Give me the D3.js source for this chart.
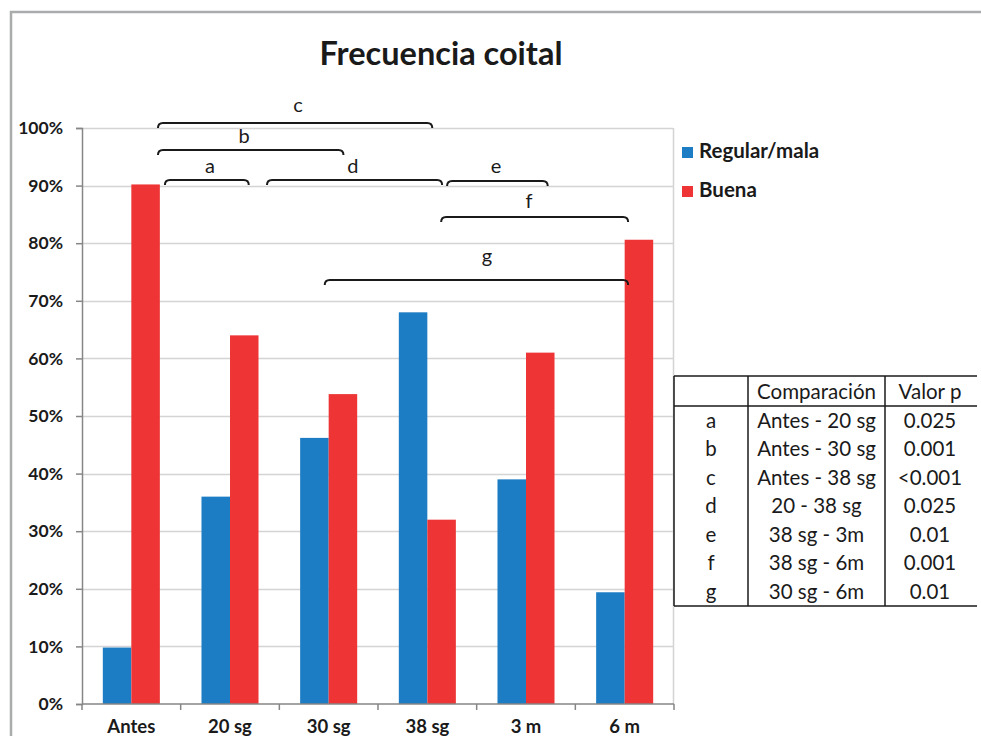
<!DOCTYPE html>
<html>
<head>
<meta charset="utf-8">
<script src="https://cdn.jsdelivr.net/npm/d3@7"></script>
<style>
  html, body { margin: 0; padding: 0; background: #fff; }
  svg { display: block; }
  text { font-family: Lato, "Open Sans", sans-serif; fill: #1a1a1a; }
</style>
</head>
<body>
<svg id="chart" width="981" height="736"></svg>
<script>
// Periods at which coital frequency was assessed
const categories = ["Antes", "20 sg", "30 sg", "38 sg", "3 m", "6 m"];
const seriesNames = ["Regular/mala", "Buena"];
// Percentage of women in each group
const regularMala = [0.098, 0.36, 0.462, 0.68, 0.39, 0.194];
const buena = [0.902, 0.64, 0.538, 0.32, 0.61, 0.806];
const yTicks = [0, 0.1, 0.2, 0.3, 0.4, 0.5, 0.6, 0.7, 0.8, 0.9, 1.0];

// Significance brackets: span in category units, bracket height and label position
const bracketLabels = ["a", "b", "c", "d", "e", "f", "g"];
const bracketFrom = [0.84, 0.77, 0.77, 1.875, 3.70, 3.64, 2.46];
const bracketTo = [1.69, 2.65, 3.55, 3.65, 4.72, 5.535, 5.535];
const bracketLevel = [0.9097, 0.9618, 1.0087, 0.9097, 0.908, 0.8455, 0.736];
const bracketLabelAt = [1.297, 1.642, 2.19, 2.746, 4.195, 4.53, 4.105];
const bracketLabelLevel = [0.922, 0.974, 1.027, 0.922, 0.922, 0.861, 0.765];

// Comparison table
const tableHeader = ["", "Comparación", "Valor p"];
const tableComparisons = ["Antes - 20 sg", "Antes - 30 sg", "Antes - 38 sg", "20 - 38 sg", "38 sg - 3m", "38 sg - 6m", "30 sg - 6m"];
const tablePValues = ["0.025", "0.001", "<0.001", "0.025", "0.01", "0.001", "0.01"];

const colors = { "Regular/mala": "#1d7dc4", "Buena": "#ee3434" };

const svg = d3.select("#chart");

// Outer chart frame
svg.append("rect")
  .attr("x", 11).attr("y", 12).attr("width", 990).attr("height", 740)
  .attr("fill", "#fff").attr("stroke", "#a9abad").attr("stroke-width", 2.5);

// Title
svg.append("text")
  .attr("x", 441).attr("y", 65)
  .attr("text-anchor", "middle")
  .attr("font-size", 32.5).attr("font-weight", 700)
  .text("Frecuencia coital");

const plot = { left: 82, right: 674, top: 128, bottom: 704 };

const x = d3.scaleBand().domain(categories).range([plot.left, plot.right]).padding(0);
const x1 = d3.scaleBand().domain(seriesNames).range([0, x.bandwidth()]).paddingInner(0).paddingOuter(0.73);
const y = d3.scaleLinear().domain([0, 1]).range([plot.bottom, plot.top]);
const ux = u => plot.left + u * x.step();

// Gridlines
svg.append("g")
  .selectAll("line")
  .data(yTicks.slice(1))
  .join("line")
  .attr("x1", plot.left).attr("x2", plot.right - 1)
  .attr("y1", d => Math.round(y(d)) + 0.5).attr("y2", d => Math.round(y(d)) + 0.5)
  .attr("stroke", "#d4d4d4").attr("stroke-width", 1.5);

// Plot-area right edge
svg.append("line")
  .attr("x1", plot.right - 0.5).attr("x2", plot.right - 0.5)
  .attr("y1", plot.top).attr("y2", plot.bottom)
  .attr("stroke", "#d4d4d4").attr("stroke-width", 1.5);

// Bars
const rows = categories.map((c, i) => ({ cat: c, values: [regularMala[i], buena[i]] }));
svg.append("g")
  .selectAll("g")
  .data(rows)
  .join("g")
  .attr("transform", d => `translate(${x(d.cat)},0)`)
  .selectAll("rect")
  .data(d => d.values.map((v, j) => ({ name: seriesNames[j], v })))
  .join("rect")
  .attr("x", d => x1(d.name))
  .attr("width", x1.bandwidth())
  .attr("y", d => y(d.v))
  .attr("height", d => y(0) - y(d.v))
  .attr("fill", d => colors[d.name]);

// Y axis
const yAxis = svg.append("g")
  .attr("transform", `translate(${plot.left},0)`)
  .call(d3.axisLeft(y).tickValues(yTicks).tickFormat(d3.format(".0%")).tickSize(6).tickPadding(13));
yAxis.select(".domain").attr("stroke", "#868686").attr("stroke-width", 1.5);
yAxis.selectAll(".tick line").attr("stroke", "#868686").attr("stroke-width", 1.5);
yAxis.selectAll(".tick text")
  .attr("font-family", "Lato, sans-serif")
  .attr("font-size", 17.5).attr("font-weight", 700).attr("fill", "#1a1a1a");

// X axis: ticks sit between categories
const xAxis = svg.append("g").attr("transform", `translate(0,${plot.bottom})`);
xAxis.append("line")
  .attr("x1", plot.left).attr("x2", plot.right)
  .attr("y1", 0).attr("y2", 0)
  .attr("stroke", "#868686").attr("stroke-width", 1.5);
xAxis.selectAll("line.tick")
  .data(d3.range(categories.length + 1))
  .join("line").attr("class", "tick")
  .attr("x1", i => plot.left + i * x.step()).attr("x2", i => plot.left + i * x.step())
  .attr("y1", 0).attr("y2", 6)
  .attr("stroke", "#868686").attr("stroke-width", 1.5);
xAxis.selectAll("text")
  .data(categories)
  .join("text")
  .attr("x", d => x(d) + x.bandwidth() / 2)
  .attr("y", 29)
  .attr("text-anchor", "middle")
  .attr("font-size", 18.5).attr("font-weight", 700)
  .text(d => d);

// Significance brackets
const brackets = bracketLabels.map((l, i) => ({
  label: l, from: bracketFrom[i], to: bracketTo[i],
  level: bracketLevel[i], labelAt: bracketLabelAt[i], labelLevel: bracketLabelLevel[i]
}));
const bg = svg.append("g");
bg.selectAll("path")
  .data(brackets)
  .join("path")
  .attr("d", d => {
    const x0 = ux(d.from), x2 = ux(d.to), yy = y(d.level), r = 5;
    return `M${x0},${yy + r} Q${x0},${yy} ${x0 + r},${yy} L${x2 - r},${yy} Q${x2},${yy} ${x2},${yy + r}`;
  })
  .attr("fill", "none").attr("stroke", "#1a1a1a").attr("stroke-width", 2);
bg.selectAll("text")
  .data(brackets)
  .join("text")
  .attr("x", d => ux(d.labelAt))
  .attr("y", d => y(d.labelLevel))
  .attr("text-anchor", "middle")
  .attr("font-size", 20)
  .text(d => d.label);

// Legend
const legend = svg.append("g");
seriesNames.forEach((name, i) => {
  const ly = 158 + i * 39;
  legend.append("rect")
    .attr("x", 682).attr("y", ly - 11).attr("width", 11).attr("height", 11)
    .attr("fill", colors[name]);
  legend.append("text")
    .attr("x", 699).attr("y", ly)
    .attr("font-size", 20.5).attr("font-weight", 700)
    .text(name);
});

// Comparison table
const tbl = { left: 674, right: 977, top: 376, headerBottom: 406, bottom: 606, col1: 748, col2: 885 };
const rowH = (tbl.bottom - tbl.headerBottom) / bracketLabels.length;
const tg = svg.append("g");
[tbl.top, tbl.headerBottom, tbl.bottom].forEach(yy => {
  tg.append("line").attr("x1", tbl.left).attr("x2", tbl.right).attr("y1", yy).attr("y2", yy)
    .attr("stroke", "#1a1a1a").attr("stroke-width", 1.5);
});
[tbl.left, tbl.col1, tbl.col2].forEach(xx => {
  tg.append("line").attr("x1", xx).attr("x2", xx).attr("y1", tbl.top).attr("y2", tbl.bottom)
    .attr("stroke", "#1a1a1a").attr("stroke-width", 1.5);
});
const colCenters = [(tbl.left + tbl.col1) / 2, (tbl.col1 + tbl.col2) / 2, (tbl.col2 + tbl.right) / 2 - 1];
tableHeader.forEach((h, j) => {
  tg.append("text").attr("x", colCenters[j]).attr("y", tbl.top + 23)
    .attr("text-anchor", "middle").attr("font-size", 20.5).text(h);
});
bracketLabels.forEach((l, i) => {
  const yy = tbl.headerBottom + rowH * i + 21.5;
  [l, tableComparisons[i], tablePValues[i]].forEach((t, j) => {
    tg.append("text").attr("x", colCenters[j]).attr("y", yy)
      .attr("text-anchor", "middle").attr("font-size", 20.5).text(t);
  });
});
</script>
</body>
</html>
